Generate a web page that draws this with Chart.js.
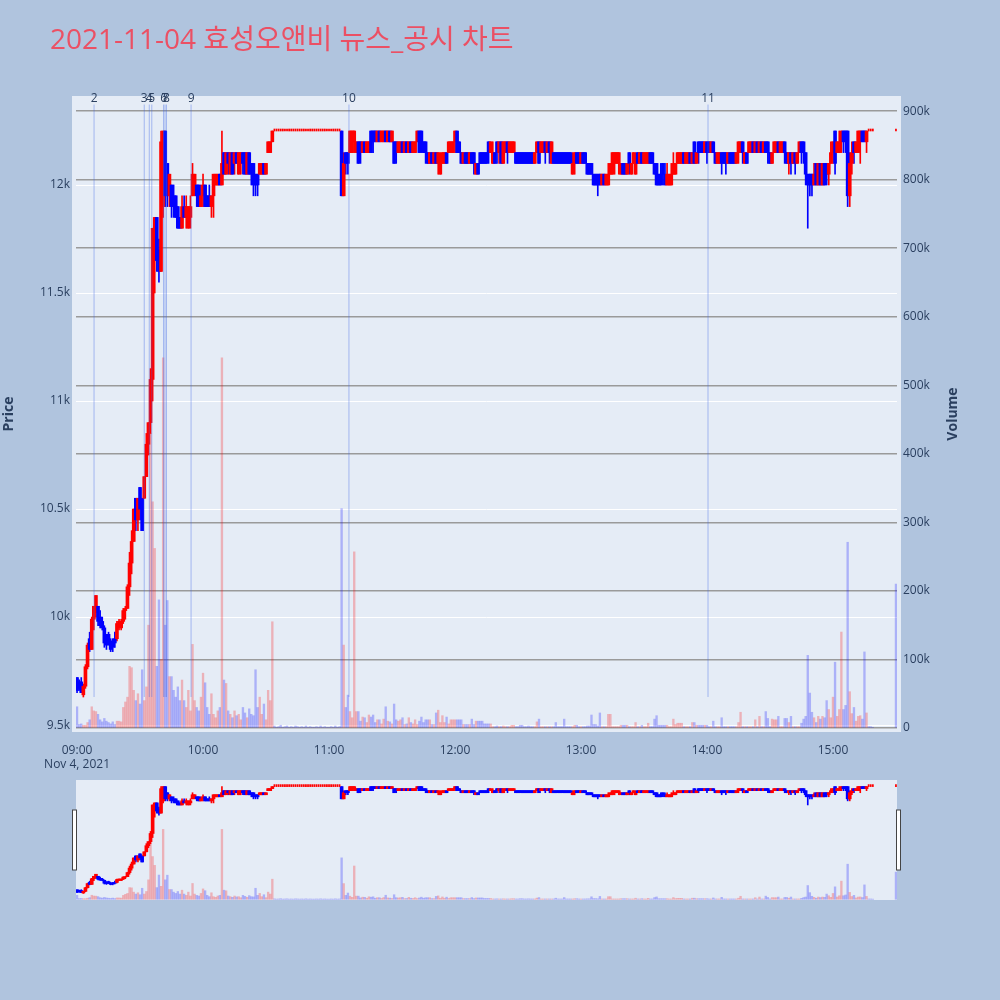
<!DOCTYPE html>
<html>
<head>
<meta charset="utf-8">
<script src="https://cdn.jsdelivr.net/npm/chart.js@4.4.1/dist/chart.umd.min.js"></script>
<style>
  html, body { margin: 0; padding: 0; background: #b0c4de; }
  #wrap { position: relative; width: 1000px; height: 1000px; overflow: hidden; }
  #title { position: absolute; left: 50px; top: 22px; font-size: 28px; line-height: 32px;
           font-family: "Open Sans", "Noto Sans CJK KR", sans-serif; color: rgb(235, 80, 100); white-space: nowrap; }
  #main { position: absolute; left: 0; top: 0; width: 1000px; height: 770px; }
  #slider { position: absolute; left: 0; top: 770px; width: 1000px; height: 140px; }
</style>
</head>
<body>
<div id="wrap">
  <canvas id="main" width="1000" height="770"></canvas>
  <canvas id="slider" width="1000" height="140"></canvas>
  <div id="title">2021-11-04 효성오앤비 뉴스_공시 차트</div>
</div>
<script>
// minute offsets from 09:00 (15:20-15:29 has no trades, 390 = 15:30 close)
var minutes = [
  0,1,2,3,4,5,6,7,8,9,10,11,12,13,14,15,16,17,18,19,
  20,21,22,23,24,25,26,27,28,29,30,31,32,33,34,35,36,37,38,39,
  40,41,42,43,44,45,46,47,48,49,50,51,52,53,54,55,56,57,58,59,
  60,61,62,63,64,65,66,67,68,69,70,71,72,73,74,75,76,77,78,79,
  80,81,82,83,84,85,86,87,88,89,90,91,92,93,94,95,96,97,98,99,
  100,101,102,103,104,105,106,107,108,109,110,111,112,113,114,115,116,117,118,119,
  120,121,122,123,124,125,126,127,128,129,130,131,132,133,134,135,136,137,138,139,
  140,141,142,143,144,145,146,147,148,149,150,151,152,153,154,155,156,157,158,159,
  160,161,162,163,164,165,166,167,168,169,170,171,172,173,174,175,176,177,178,179,
  180,181,182,183,184,185,186,187,188,189,190,191,192,193,194,195,196,197,198,199,
  200,201,202,203,204,205,206,207,208,209,210,211,212,213,214,215,216,217,218,219,
  220,221,222,223,224,225,226,227,228,229,230,231,232,233,234,235,236,237,238,239,
  240,241,242,243,244,245,246,247,248,249,250,251,252,253,254,255,256,257,258,259,
  260,261,262,263,264,265,266,267,268,269,270,271,272,273,274,275,276,277,278,279,
  280,281,282,283,284,285,286,287,288,289,290,291,292,293,294,295,296,297,298,299,
  300,301,302,303,304,305,306,307,308,309,310,311,312,313,314,315,316,317,318,319,
  320,321,322,323,324,325,326,327,328,329,330,331,332,333,334,335,336,337,338,339,
  340,341,342,343,344,345,346,347,348,349,350,351,352,353,354,355,356,357,358,359,
  360,361,362,363,364,365,366,367,368,369,370,371,372,373,374,375,376,377,378,379,
  390
];

var opens = [
  9720,9700,9700,9640,9680,9770,9900,9850,9990,10020,
  10050,10000,9980,9950,9900,9920,9890,9880,9900,9900,
  9950,9950,9980,10030,10040,10140,10250,10350,10550,10450,
  10600,10550,10550,10650,10800,10900,11100,11800,11850,11700,
  11600,11900,12250,12100,11950,12000,11950,11950,11900,11850,
  11800,11900,11850,11800,11850,11950,12000,12000,12000,11900,
  11950,12000,11950,11950,11900,11950,12000,12000,12050,12000,
  12150,12050,12150,12050,12150,12100,12150,12050,12100,12150,
  12150,12050,12150,12100,12100,12050,12050,12050,12050,12100,
  12050,12150,12150,12200,12250,12250,12250,12250,12250,12250,
  12250,12250,12250,12250,12250,12250,12250,12250,12250,12250,
  12250,12250,12250,12250,12250,12250,12250,12250,12250,12250,
  12250,12250,12250,12250,12250,12250,12250,11950,12150,12150,
  12150,12150,12200,12150,12200,12200,12150,12200,12150,12150,
  12250,12250,12250,12200,12250,12200,12200,12250,12200,12250,
  12200,12200,12200,12150,12150,12200,12150,12200,12150,12200,
  12150,12150,12200,12250,12250,12200,12200,12150,12100,12150,
  12100,12150,12100,12050,12100,12100,12150,12150,12150,12150,
  12200,12250,12200,12150,12100,12150,12150,12100,12150,12150,
  12050,12100,12150,12150,12150,12150,12200,12150,12100,12150,
  12200,12150,12200,12100,12150,12200,12150,12150,12150,12150,
  12150,12150,12150,12150,12150,12150,12150,12150,12100,12150,
  12200,12150,12150,12200,12150,12200,12100,12150,12150,12150,
  12150,12150,12150,12150,12150,12150,12050,12100,12150,12150,
  12100,12150,12150,12100,12100,12100,12050,12050,12050,12050,
  12000,12050,12000,12000,12050,12050,12100,12100,12100,12050,
  12100,12100,12050,12150,12050,12100,12050,12150,12100,12150,
  12100,12100,12100,12150,12150,12100,12100,12050,12050,12100,
  12050,12000,12000,12000,12050,12050,12100,12100,12100,12150,
  12100,12100,12150,12100,12200,12100,12200,12200,12200,12150,
  12200,12200,12150,12200,12150,12100,12100,12150,12150,12150,
  12100,12150,12150,12150,12100,12150,12150,12200,12100,12150,
  12150,12150,12200,12150,12200,12150,12200,12150,12200,12200,
  12150,12100,12150,12150,12200,12150,12150,12200,12150,12100,
  12150,12100,12150,12100,12150,12200,12200,12150,12050,12050,
  12050,12000,12100,12000,12100,12000,12100,12100,12050,12100,
  12150,12250,12150,12150,12200,12250,12250,12250,11950,12100,
  12200,12150,12150,12200,12250,12250,12200,12250,12250,12250,
  12250
];

var highs = [
  9720,9710,9720,9690,9780,9880,9930,10000,10050,10100,
  10050,10030,10000,9960,9920,9930,9900,9900,9930,9980,
  9990,9990,10040,10050,10150,10300,10400,10500,10550,10550,
  10600,10550,10650,10850,10900,11150,11800,11850,11850,11750,
  12250,12250,12250,12100,12050,12000,12000,11950,11900,11850,
  11950,11950,11950,11900,11950,12100,12050,12000,12000,12000,
  12050,12000,11950,12000,11950,12050,12050,12050,12050,12250,
  12150,12150,12150,12150,12150,12150,12150,12150,12150,12150,
  12150,12150,12150,12100,12100,12050,12050,12100,12100,12100,
  12100,12200,12200,12250,12250,12250,12250,12250,12250,12250,
  12250,12250,12250,12250,12250,12250,12250,12250,12250,12250,
  12250,12250,12250,12250,12250,12250,12250,12250,12250,12250,
  12250,12250,12250,12250,12250,12250,12250,12150,12150,12150,
  12250,12250,12250,12200,12200,12200,12200,12200,12200,12200,
  12250,12250,12250,12250,12250,12250,12250,12250,12250,12250,
  12250,12200,12200,12200,12200,12200,12200,12200,12200,12200,
  12200,12200,12250,12250,12250,12200,12200,12150,12150,12150,
  12150,12150,12150,12150,12150,12150,12150,12200,12200,12200,
  12250,12250,12200,12150,12150,12150,12150,12150,12150,12150,
  12100,12100,12150,12150,12150,12150,12200,12200,12200,12150,
  12200,12200,12200,12200,12200,12200,12200,12200,12200,12150,
  12150,12150,12150,12150,12150,12150,12150,12150,12150,12200,
  12200,12200,12200,12200,12200,12200,12200,12150,12150,12150,
  12150,12150,12150,12150,12150,12150,12150,12150,12150,12150,
  12150,12150,12150,12100,12100,12100,12050,12050,12050,12050,
  12050,12050,12050,12100,12100,12150,12150,12150,12150,12100,
  12100,12100,12100,12150,12100,12150,12150,12150,12150,12150,
  12150,12150,12150,12150,12150,12100,12100,12050,12100,12100,
  12100,12100,12050,12100,12150,12100,12150,12150,12150,12150,
  12150,12150,12150,12150,12200,12150,12200,12200,12200,12200,
  12200,12200,12200,12200,12150,12150,12150,12150,12150,12150,
  12150,12150,12150,12150,12150,12200,12200,12200,12150,12150,
  12200,12200,12200,12200,12200,12200,12200,12200,12200,12200,
  12150,12150,12200,12200,12200,12200,12200,12200,12150,12150,
  12150,12150,12150,12150,12200,12200,12200,12150,12050,12050,
  12050,12100,12100,12100,12100,12100,12100,12100,12100,12200,
  12200,12250,12200,12250,12250,12250,12250,12250,12150,12200,
  12200,12200,12250,12250,12250,12250,12250,12250,12250,12250,
  12250
];

var lows = [
  9650,9660,9650,9630,9670,9760,9840,9850,9940,10000,
  9960,9950,9940,9860,9850,9870,9840,9840,9860,9890,
  9940,9940,9970,9990,10040,10100,10200,10350,10400,10400,
  10450,10400,10550,10650,10750,10850,11000,11500,11600,11550,
  11600,11850,11900,11900,11900,11850,11850,11850,11800,11800,
  11800,11850,11800,11800,11800,11950,11950,11900,11900,11900,
  11900,11900,11900,11900,11850,11850,12000,12000,12000,12000,
  12050,12050,12050,12050,12050,12050,12100,12050,12050,12050,
  12050,12050,12050,12000,11950,11950,11950,12050,12050,12050,
  12050,12150,12150,12200,12250,12250,12250,12250,12250,12250,
  12250,12250,12250,12250,12250,12250,12250,12250,12250,12250,
  12250,12250,12250,12250,12250,12250,12250,12250,12250,12250,
  12250,12250,12250,12250,12250,12250,11950,11950,12050,12050,
  12150,12150,12150,12150,12100,12100,12150,12150,12150,12150,
  12150,12150,12200,12200,12200,12200,12200,12200,12200,12200,
  12200,12100,12100,12150,12150,12150,12150,12150,12150,12150,
  12150,12150,12200,12150,12150,12150,12100,12100,12100,12100,
  12100,12100,12050,12050,12100,12100,12100,12150,12150,12150,
  12150,12150,12150,12100,12100,12100,12100,12100,12100,12050,
  12050,12050,12100,12100,12100,12100,12100,12150,12100,12100,
  12100,12100,12100,12100,12150,12100,12150,12150,12150,12100,
  12100,12100,12100,12100,12100,12100,12100,12100,12100,12150,
  12100,12150,12150,12100,12150,12100,12100,12100,12100,12100,
  12100,12100,12100,12100,12100,12100,12050,12050,12100,12100,
  12100,12100,12100,12050,12050,12050,12000,12000,11950,12000,
  12000,12000,12000,12000,12050,12050,12050,12100,12050,12050,
  12050,12050,12050,12050,12050,12100,12050,12100,12100,12100,
  12100,12100,12100,12100,12100,12050,12000,12000,12000,12000,
  12000,12000,12000,12000,12050,12050,12100,12100,12100,12100,
  12100,12100,12100,12100,12100,12100,12100,12150,12150,12150,
  12100,12150,12150,12150,12100,12100,12100,12050,12100,12050,
  12100,12100,12100,12100,12100,12100,12150,12100,12100,12100,
  12150,12150,12150,12150,12150,12150,12150,12150,12150,12100,
  12100,12100,12150,12150,12150,12150,12150,12100,12100,12050,
  12050,12100,12050,12100,12150,12100,12100,12000,11800,11950,
  11950,12000,12000,12000,12000,12000,12000,12000,12000,12100,
  12100,12050,12150,12150,12150,12150,12150,11900,11900,12050,
  12100,12150,12150,12100,12200,12200,12150,12250,12250,12250,
  12250
];

var closes = [
  9660,9670,9650,9680,9770,9870,9850,9990,10050,10100,
  9980,9960,9950,9880,9870,9880,9850,9860,9880,9970,
  9980,9980,10030,10040,10140,10250,10350,10500,10450,10550,
  10500,10400,10650,10800,10900,11100,11800,11850,11650,11600,
  12200,12250,11950,11950,12050,11900,11900,11850,11800,11800,
  11900,11850,11900,11900,11900,12050,12050,11950,11900,11950,
  12000,11900,11900,11900,11950,12050,12050,12050,12000,12100,
  12050,12150,12100,12150,12050,12150,12100,12150,12150,12100,
  12050,12150,12050,12050,12000,12000,12000,12100,12100,12050,
  12100,12200,12200,12250,12250,12250,12250,12250,12250,12250,
  12250,12250,12250,12250,12250,12250,12250,12250,12250,12250,
  12250,12250,12250,12250,12250,12250,12250,12250,12250,12250,
  12250,12250,12250,12250,12250,12250,11950,12100,12100,12100,
  12250,12250,12250,12200,12100,12150,12200,12150,12200,12200,
  12150,12200,12200,12250,12200,12250,12250,12200,12250,12200,
  12250,12100,12150,12200,12200,12150,12200,12150,12200,12150,
  12200,12200,12250,12150,12200,12150,12150,12100,12150,12100,
  12150,12100,12150,12100,12150,12150,12100,12200,12200,12200,
  12250,12150,12150,12100,12150,12100,12100,12150,12100,12100,
  12100,12050,12100,12100,12100,12100,12150,12200,12150,12100,
  12150,12200,12100,12200,12200,12150,12200,12200,12200,12100,
  12100,12100,12100,12100,12100,12100,12100,12100,12150,12200,
  12100,12200,12200,12150,12200,12150,12200,12100,12100,12100,
  12100,12100,12100,12100,12100,12100,12100,12150,12100,12100,
  12150,12100,12100,12050,12050,12050,12000,12000,12000,12000,
  12050,12000,12050,12050,12100,12150,12150,12150,12150,12100,
  12050,12050,12100,12100,12100,12150,12100,12100,12150,12100,
  12150,12150,12150,12100,12100,12050,12000,12000,12000,12050,
  12000,12050,12050,12050,12100,12100,12150,12150,12150,12100,
  12150,12150,12100,12150,12100,12150,12150,12150,12150,12200,
  12150,12150,12200,12150,12100,12150,12150,12100,12100,12100,
  12150,12100,12100,12100,12150,12200,12200,12150,12150,12100,
  12200,12200,12150,12200,12150,12200,12150,12200,12150,12150,
  12100,12150,12200,12200,12150,12200,12200,12150,12100,12150,
  12100,12150,12100,12150,12200,12150,12150,12050,12000,12000,
  12000,12050,12000,12100,12000,12100,12000,12050,12100,12150,
  12200,12100,12200,12200,12250,12200,12200,11950,12100,12150,
  12150,12200,12250,12250,12200,12200,12250,12250,12250,12250,
  12250
];

var volumes = [
  31000,5000,6000,4000,4000,8000,12000,31000,25000,24000,
  20000,12000,9000,14000,10000,8000,6000,9000,5000,10000,
  10000,9000,30000,38000,45000,90000,88000,55000,40000,50000,
  35000,85000,40000,60000,150000,430000,330000,262000,90000,187000,
  100000,540000,150000,186000,75000,75000,55000,45000,60000,40000,
  70000,40000,30000,55000,25000,122000,40000,30000,25000,45000,
  80000,66000,30000,20000,50000,20000,15000,25000,30000,540000,
  70000,65000,25000,20000,15000,25000,18000,20000,12000,30000,
  22000,15000,28000,20000,18000,85000,30000,45000,20000,35000,
  12000,55000,40000,155000,3000,1000,2000,4000,1000,2000,
  3000,1000,2000,1000,3000,2000,1000,2000,1000,3000,
  1000,2000,1000,1000,2000,1000,3000,1000,2000,1000,
  1000,2000,1000,3000,1000,2000,320000,121000,30000,48000,
  24000,15000,257000,24000,24000,10000,16000,15000,8000,19000,
  16000,19000,8000,12000,12000,6000,13000,31000,10000,9000,
  6000,35000,12000,10000,12000,15000,5000,6000,15000,8000,
  6000,12000,5000,10000,16000,8000,12000,12000,12000,5000,
  5000,22000,26000,8000,18000,8000,16000,6000,12000,12000,
  12000,12000,12000,12000,5000,5000,5000,5000,13000,5000,
  10000,10000,10000,10000,6000,6000,6000,6000,2000,2000,
  3000,2000,2000,3000,2000,2000,2000,4000,4000,2000,
  2000,4000,4000,2000,2000,3000,2000,2000,2000,9000,
  13000,2000,2000,2000,2000,2000,2000,2000,8000,2000,
  2000,2000,13000,2000,2000,2000,2000,4000,4000,2000,
  2000,2000,2000,3000,3000,19000,5000,5000,3000,22000,
  2000,2000,2000,20000,20000,2000,2000,2000,2000,4000,
  4000,4000,4000,2000,2000,2000,8000,2000,2000,4000,
  2000,2000,7000,2000,2000,13000,18000,4000,4000,4000,
  4000,4000,2000,2000,13000,5000,7000,7000,7000,2000,
  2000,2000,2000,8000,8000,4000,4000,4000,4000,4000,
  4000,2000,2000,10000,2000,2000,2000,15000,2000,2000,
  2000,2000,2000,2000,2000,8000,23000,2000,2000,2000,
  2000,2000,2000,12000,2000,17000,2000,2000,24000,14000,
  2000,13000,12000,12000,17000,2000,2000,14000,14000,8000,
  17000,2000,2000,2000,2000,7000,13000,17000,106000,51000,
  23000,15000,8000,17000,13000,17000,15000,40000,27000,15000,
  45000,96000,17000,27000,140000,27000,33000,271000,53000,21000,
  30000,10000,17000,18000,13000,111000,22000,2000,2000,1000,
  210000
];

// axes
var priceTicks = [9500, 10000, 10500, 11000, 11500, 12000];
var volumeTicks = [0, 100000, 200000, 300000, 400000, 500000, 600000, 700000, 800000, 900000];
var hourTicks = [0, 60, 120, 180, 240, 300, 360];
var hourLabels = ['09:00', '10:00', '11:00', '12:00', '13:00', '14:00', '15:00'];
var dateLabel = 'Nov 4, 2021';
var priceRange = [9468, 12412];
var volumeRange = [-5800, 922000];
var minuteRange = [-0.5, 390.5];

// news / disclosure markers
var eventNames = ['2', '3', '4', '5', '6', '7', '8', '9', '10', '11'];
var eventMinutes = [8.1, 32.0, 34.4, 35.6, 41.2, 41.9, 42.6, 54.3, 129.5, 300.5];

var FONT = '"Open Sans", verdana, arial, sans-serif';
var TXT = '#2a3f5f';
var UP = '#ff0000', DOWN = '#0000ff';
var UP_VOL = 'rgba(255,0,0,0.25)', DOWN_VOL = 'rgba(0,0,255,0.25)';

function buildDatasets() {
    var vol = [], volCol = [], wick = [], wickCol = [], body = [], bodyCol = [], doji = [];
    for (var i = 0; i < minutes.length; i++) {
        var m = minutes[i];
        var col = closes[i] >= opens[i] ? UP : DOWN;
        vol.push({ x: m, y: volumes[i] });
        volCol.push(closes[i] > opens[i] ? UP_VOL : DOWN_VOL);
        if (highs[i] > lows[i]) {
            wick.push({ x: m, y: [lows[i], highs[i]] });
            wickCol.push(col);
        }
        if (opens[i] === closes[i]) {
            doji.push({ x: m, y: [opens[i], closes[i]] });
        } else {
            body.push({ x: m, y: [opens[i], closes[i]] });
            bodyCol.push(col);
        }
    }
    return [
        { label: 'Volume', data: vol, yAxisID: 'yv', backgroundColor: volCol,
          barThickness: 1.7, grouped: false, order: 4 },
        { label: 'wick', data: wick, yAxisID: 'y', backgroundColor: wickCol,
          barThickness: 1, grouped: false, order: 3 },
        { label: 'body', data: body, yAxisID: 'y', backgroundColor: bodyCol,
          barThickness: 3, grouped: false, order: 2 },
        { label: 'doji', data: doji, yAxisID: 'y', backgroundColor: UP,
          barThickness: 1.1, minBarLength: 2, grouped: false, order: 1 }
    ];
}

var plotBg = {
    id: 'plotBg',
    beforeDraw: function (chart, args, opts) {
        var a = chart.chartArea, ctx = chart.ctx;
        ctx.save();
        ctx.fillStyle = '#e5ecf6';
        ctx.fillRect(a.left - opts.pad, a.top, a.right - a.left + 2 * opts.pad, a.bottom - a.top);
        ctx.restore();
    }
};

var eventLines = {
    id: 'eventLines',
    afterDatasetsDraw: function (chart) {
        var xs = chart.scales.x, ys = chart.scales.y, ctx = chart.ctx;
        var y0 = ys.getPixelForValue(Math.min.apply(null, lows));
        var y1 = ys.getPixelForValue(Math.max.apply(null, highs) * 1.01);
        ctx.save();
        ctx.strokeStyle = 'rgba(60,100,230,0.4)';
        ctx.lineWidth = 1;
        ctx.fillStyle = TXT;
        ctx.font = '12px ' + FONT;
        ctx.textAlign = 'center';
        ctx.textBaseline = 'alphabetic';
        eventMinutes.forEach(function (m, i) {
            var px = xs.getPixelForValue(m);
            ctx.beginPath();
            ctx.moveTo(px, y0);
            ctx.lineTo(px, y1);
            ctx.stroke();
            ctx.fillText(eventNames[i], px, y1 - 2.5);
        });
        ctx.restore();
    }
};

var axisTitles = {
    id: 'axisTitles',
    afterDraw: function (chart) {
        var a = chart.chartArea, ctx = chart.ctx;
        var cy = (a.top + a.bottom) / 2;
        ctx.save();
        ctx.fillStyle = TXT;
        ctx.font = 'bold 14px ' + FONT;
        ctx.textAlign = 'center';
        ctx.textBaseline = 'middle';
        [['Price', 9], ['Volume', 953]].forEach(function (t) {
            ctx.save();
            ctx.translate(t[1], cy);
            ctx.rotate(-Math.PI / 2);
            ctx.fillText(t[0], 0, 0);
            ctx.restore();
        });
        ctx.restore();
    }
};

var sliderHandles = {
    id: 'sliderHandles',
    afterDraw: function (chart) {
        var a = chart.chartArea, ctx = chart.ctx;
        var h = a.bottom - a.top;
        ctx.save();
        ctx.fillStyle = '#ffffff';
        ctx.strokeStyle = '#444444';
        ctx.lineWidth = 1;
        [a.left - 3.5, a.right - 0.5].forEach(function (x) {
            ctx.fillRect(x, a.top + h * 0.25, 4, h * 0.5);
            ctx.strokeRect(x, a.top + h * 0.25, 4, h * 0.5);
        });
        ctx.restore();
    }
};

function setTicks(list) {
    return function (scale) { scale.ticks = list.map(function (v) { return { value: v }; }); };
}

new Chart(document.getElementById('main'), {
    type: 'bar',
    data: { datasets: buildDatasets() },
    plugins: [plotBg, eventLines, axisTitles],
    options: {
        responsive: false,
        animation: false,
        devicePixelRatio: 1,
        events: [],
        layout: { padding: { left: 0, right: 0, top: 96, bottom: 0 } },
        plugins: { legend: { display: false }, tooltip: { enabled: false }, plotBg: { pad: 4 } },
        scales: {
            x: {
                type: 'linear', min: minuteRange[0], max: minuteRange[1], offset: false,
                grid: { display: false }, border: { display: false },
                afterBuildTicks: setTicks(hourTicks),
                afterFit: function (s) { s.height = 38; },
                ticks: {
                    color: TXT, font: { family: FONT, size: 12 }, padding: 3,
                    maxRotation: 0, autoSkip: false,
                    callback: function (v, i) { return i === 0 ? [hourLabels[i], dateLabel] : hourLabels[i]; }
                }
            },
            y: {
                position: 'left', min: priceRange[0], max: priceRange[1],
                grid: { color: '#ffffff', lineWidth: 1, drawTicks: false }, border: { display: false },
                afterBuildTicks: setTicks(priceTicks),
                afterFit: function (s) { s.width = 76; },
                ticks: {
                    color: TXT, font: { family: FONT, size: 12 }, padding: 6,
                    callback: function (v) { return (v / 1000) + 'k'; }
                }
            },
            yv: {
                position: 'right', min: volumeRange[0], max: volumeRange[1],
                grid: { color: '#9a9a9a', lineWidth: 1.5, drawTicks: false }, border: { display: false },
                afterBuildTicks: setTicks(volumeTicks),
                afterFit: function (s) { s.width = 103; },
                ticks: {
                    color: TXT, font: { family: FONT, size: 12 }, padding: 6,
                    callback: function (v) { return v === 0 ? '0' : (v / 1000) + 'k'; }
                }
            }
        }
    }
});

new Chart(document.getElementById('slider'), {
    type: 'bar',
    data: { datasets: buildDatasets() },
    plugins: [plotBg, sliderHandles],
    options: {
        responsive: false,
        animation: false,
        devicePixelRatio: 1,
        events: [],
        layout: { padding: { left: 76, right: 103, top: 10, bottom: 10 } },
        plugins: { legend: { display: false }, tooltip: { enabled: false }, plotBg: { pad: 0 } },
        scales: {
            x: { type: 'linear', min: minuteRange[0], max: minuteRange[1], offset: false, display: false },
            y: { min: priceRange[0], max: priceRange[1], display: false },
            yv: { min: volumeRange[0], max: volumeRange[1], display: false }
        }
    }
});
</script>
</body>
</html>
